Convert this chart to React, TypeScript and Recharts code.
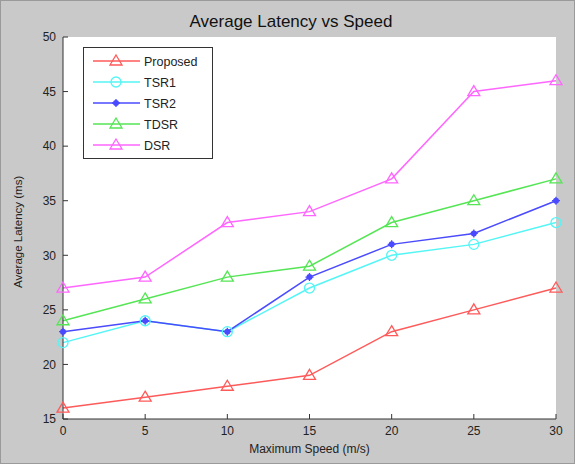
import { CartesianGrid, Line, LineChart, XAxis, YAxis } from "recharts";

const speeds = [0, 5, 10, 15, 20, 25, 30];
const proposed = [16, 17, 18, 19, 23, 25, 27];
const tsr1 = [22, 24, 23, 27, 30, 31, 33];
const tsr2 = [23, 24, 23, 28, 31, 32, 35];
const tdsr = [24, 26, 28, 29, 33, 35, 37];
const dsr = [27, 28, 33, 34, 37, 45, 46];
const xTicks = [0, 5, 10, 15, 20, 25, 30];
const yTicks = [15, 20, 25, 30, 35, 40, 45, 50];

const data = speeds.map((s, i) => ({
  speed: s,
  Proposed: proposed[i],
  TSR1: tsr1[i],
  TSR2: tsr2[i],
  TDSR: tdsr[i],
  DSR: dsr[i],
}));

const SERIES = [
  { key: "Proposed", color: "#ff5a5a", marker: "tri" },
  { key: "TSR1", color: "#55f5f5", marker: "circle" },
  { key: "TSR2", color: "#4a4aff", marker: "star" },
  { key: "TDSR", color: "#55e555", marker: "tri" },
  { key: "DSR", color: "#ff66ff", marker: "tri" },
];

const FONT = "'Liberation Sans', Arial, sans-serif";

function Marker({ cx, cy, color, kind }: { cx: number; cy: number; color: string; kind: string }) {
  if (kind === "circle") return <circle cx={cx} cy={cy} r={5} fill="none" stroke={color} strokeWidth={1.3} />;
  if (kind === "star")
    return (
      <g>
        <circle cx={cx} cy={cy} r={3} fill={color} />
        <path d={`M${cx - 4},${cy}L${cx + 4},${cy}M${cx},${cy - 4}L${cx},${cy + 4}`} stroke={color} strokeWidth={1.3} />
      </g>
    );
  return (
    <path
      d={`M${cx},${cy - 6}L${cx + 6},${cy + 4}L${cx - 6},${cy + 4}Z`}
      fill="none"
      stroke={color}
      strokeWidth={1.3}
    />
  );
}

// legend drawn as an overlay so it doesn't eat into the plot area
function LegendBox() {
  return (
    <svg width={130} height={112} style={{ position: "absolute", left: 82, top: 46 }}>
      <rect x={0.5} y={0.5} width={129} height={111} fill="#fff" stroke="#333" strokeWidth={1} />
      {SERIES.map((s, i) => {
        const y = 14 + i * 21;
        return (
          <g key={s.key}>
            <line x1={10} x2={57} y1={y} y2={y} stroke={s.color} strokeWidth={1.5} />
            <Marker cx={33} cy={y} color={s.color} kind={s.marker} />
            <text x={61} y={y + 4.5} fontSize={12.5} fontFamily={FONT} fill="#222">
              {s.key}
            </text>
          </g>
        );
      })}
    </svg>
  );
}

export default function App() {
  return (
    <div style={{ position: "absolute", left: 0, top: 0, width: 575, height: 464, background: "#c9c9c9", border: "1px solid #9a9a9a", boxSizing: "border-box" }}>
      <LineChart width={573} height={462} data={data} margin={{ top: 36, right: 18, bottom: 22, left: 29 }}>
        <CartesianGrid vertical={false} horizontal={false} fill="#ffffff" />
        <text x={290} y={26} textAnchor="middle" fontSize={17} fontFamily={FONT} fill="#111">
          Average Latency vs Speed
        </text>
        <XAxis
          xAxisId="b"
          dataKey="speed"
          type="number"
          domain={[0, 30]}
          ticks={xTicks}
          height={22}
          stroke="#333"
          tickSize={-5}
          tickMargin={12}
          tick={{ fill: "#222", fontSize: 12, fontFamily: FONT }}
          label={{ value: "Maximum Speed (m/s)", position: "insideBottom", offset: -12, fill: "#222", fontSize: 12, fontFamily: FONT }}
        />
        <XAxis
          xAxisId="t"
          orientation="top"
          dataKey="speed"
          type="number"
          domain={[0, 30]}
          ticks={xTicks}
          height={0}
          stroke="#333"
          tickSize={-5}
          tick={false}
        />
        <YAxis
          yAxisId="l"
          type="number"
          domain={[15, 50]}
          ticks={yTicks}
          width={33}
          stroke="#333"
          tickSize={-5}
          tickMargin={12}
          tick={{ fill: "#222", fontSize: 12, fontFamily: FONT }}
          label={{ value: "Average Latency (ms)", angle: -90, position: "insideLeft", offset: -12, dy: 60, fill: "#222", fontSize: 11.5, fontFamily: FONT }}
        />
        <YAxis
          yAxisId="r"
          orientation="right"
          type="number"
          domain={[15, 50]}
          ticks={yTicks}
          width={0}
          stroke="#333"
          tickSize={-5}
          tick={false}
        />
        {SERIES.map((s) => (
          <Line
            key={s.key}
            xAxisId="b"
            yAxisId="l"
            dataKey={s.key}
            stroke={s.color}
            strokeWidth={1.5}
            isAnimationActive={false}
            dot={(p: any) => <Marker key={`${s.key}-${p.index}`} cx={p.cx} cy={p.cy} color={s.color} kind={s.marker} />}
            activeDot={false}
          />
        ))}
      </LineChart>
      <LegendBox />
    </div>
  );
}
